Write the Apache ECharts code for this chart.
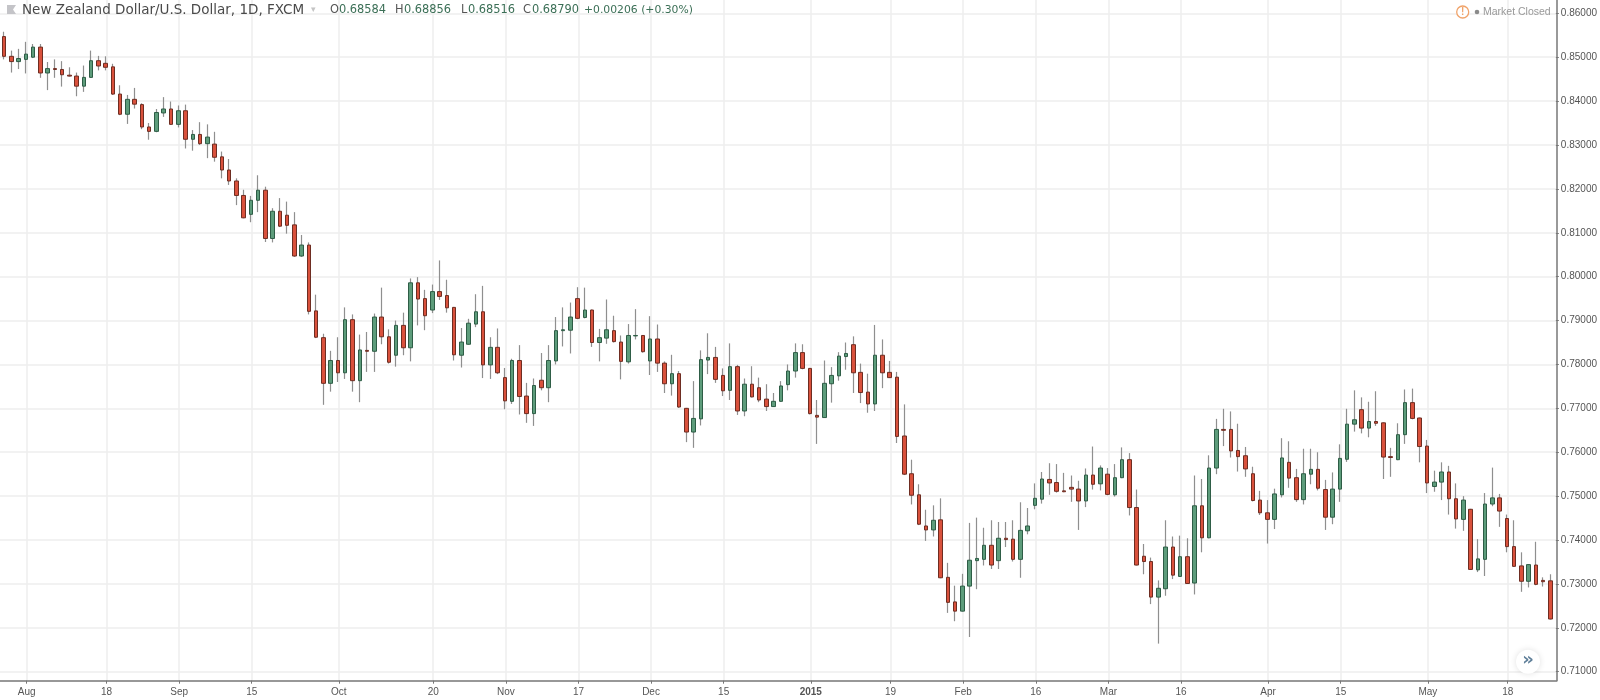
<!DOCTYPE html>
<html><head><meta charset="utf-8"><style>html,body{margin:0;padding:0;background:#fff}#c{width:1600px;height:700px}</style>
<script src="https://cdn.jsdelivr.net/npm/echarts@6/dist/echarts.min.js"></script></head><body><div id="c"></div>
<script>
const opens=[.8547,.8502,.8490,.8495,.8500,.8523,.8464,.8474,.8472,.8459,
.8457,.8434,.8454,.8492,.8486,.8478,.8416,.8370,.8404,.8392,
.8341,.8331,.8373,.8382,.8347,.8378,.8313,.8324,.8303,.8302,
.8273,.8243,.8218,.8185,.8142,.8174,.8197,.8087,.8149,.8140,
.8118,.8047,.8072,.7922,.7861,.7757,.7809,.7781,.7902,.7763,
.7832,.7830,.7908,.7863,.7821,.7889,.7838,.7986,.7950,.7924,
.7966,.7957,.7930,.7821,.7846,.7892,.7920,.7799,.7839,.7770,
.7716,.7809,.7728,.7688,.7764,.7747,.7808,.7877,.7878,.7950,
.7907,.7924,.7850,.7860,.7877,.7851,.7806,.7865,.7866,.7808,
.7858,.7803,.7756,.7779,.7700,.7646,.7676,.7810,.7816,.7775,
.7741,.7795,.7694,.7755,.7747,.7721,.7704,.7716,.7754,.7785,
.7827,.7791,.7684,.7679,.7756,.7774,.7818,.7845,.7782,.7737,
.7710,.7821,.7782,.7771,.7637,.7551,.7503,.7432,.7423,.7446,
.7315,.7259,.7238,.7295,.7353,.7356,.7388,.7353,.7404,.7402,
.7356,.7421,.7479,.7493,.7538,.7531,.7512,.7520,.7516,.7489,
.7548,.7528,.7550,.7503,.7542,.7583,.7474,.7363,.7351,.7270,
.7289,.7384,.7317,.7362,.7302,.7478,.7405,.7564,.7652,.7652,
.7604,.7592,.7551,.7491,.7462,.7447,.7503,.7577,.7542,.7492,
.7550,.7561,.7515,.7452,.7516,.7584,.7664,.7697,.7655,.7670,
.7667,.7590,.7583,.7640,.7713,.7678,.7614,.7522,.7532,.7555,
.7494,.7447,.7470,.7332,.7356,.7482,.7496,.7449,.7385,.7341,
.7306,.7343,.7308,.7307];
const closes=[.8502,.8490,.8497,.8507,.8523,.8464,.8474,.8472,.8460,.8457,
.8434,.8454,.8492,.8480,.8477,.8416,.8370,.8404,.8393,.8341,
.8331,.8374,.8382,.8347,.8378,.8313,.8324,.8303,.8318,.8272,
.8243,.8218,.8185,.8134,.8174,.8197,.8087,.8149,.8115,.8117,
.8047,.8072,.7921,.7862,.7757,.7809,.7781,.7902,.7763,.7833,
.7830,.7908,.7863,.7805,.7889,.7838,.7986,.7949,.7911,.7966,
.7955,.7929,.7822,.7851,.7894,.7920,.7799,.7839,.7781,.7717,
.7809,.7727,.7688,.7752,.7747,.7809,.7877,.7879,.7908,.7905,
.7924,.7850,.7861,.7879,.7852,.7807,.7866,.7866,.7829,.7858,
.7803,.7756,.7779,.7703,.7646,.7677,.7811,.7816,.7766,.7740,
.7795,.7694,.7755,.7726,.7719,.7704,.7716,.7751,.7785,.7827,
.7791,.7688,.7680,.7757,.7775,.7819,.7825,.7781,.7736,.7710,
.7821,.7781,.7770,.7636,.7550,.7502,.7436,.7423,.7445,.7314,
.7258,.7238,.7295,.7354,.7358,.7388,.7343,.7404,.7401,.7356,
.7422,.7432,.7495,.7539,.7530,.7511,.7510,.7516,.7489,.7548,
.7527,.7564,.7504,.7542,.7583,.7474,.7343,.7351,.7270,.7290,
.7384,.7320,.7362,.7301,.7478,.7405,.7564,.7652,.7650,.7603,
.7590,.7562,.7490,.7462,.7447,.7505,.7587,.7541,.7492,.7551,
.7561,.7518,.7452,.7516,.7586,.7664,.7674,.7655,.7670,.7666,
.7589,.7588,.7640,.7713,.7677,.7613,.7530,.7532,.7555,.7494,
.7448,.7491,.7333,.7357,.7482,.7496,.7466,.7385,.7340,.7306,
.7344,.7299,.7305,.7220];
const highs=[.8558,.8515,.8519,.8535,.8530,.8530,.8489,.8495,.8491,.8477,
.8465,.8481,.8515,.8503,.8502,.8485,.8436,.8414,.8430,.8395,
.8350,.8382,.8409,.8399,.8390,.8392,.8334,.8352,.8347,.8330,
.8285,.8268,.8224,.8198,.8184,.8231,.8205,.8156,.8179,.8171,
.8147,.8095,.8078,.7959,.7870,.7831,.7862,.7930,.7914,.7868,
.7874,.7916,.7975,.7880,.7900,.7918,.7996,.7999,.7970,.7982,
.8037,.7993,.7931,.7883,.7904,.7960,.7979,.7862,.7882,.7792,
.7813,.7844,.7758,.7768,.7826,.7844,.7908,.7930,.7941,.7976,
.7975,.7925,.7881,.7948,.7911,.7866,.7892,.7926,.7867,.7910,
.7891,.7807,.7822,.7785,.7701,.7762,.7832,.7871,.7840,.7791,
.7848,.7799,.7768,.7796,.7770,.7755,.7735,.7762,.7800,.7848,
.7846,.7792,.7719,.7809,.7794,.7828,.7850,.7864,.7802,.7779,
.7890,.7857,.7808,.7783,.7709,.7583,.7527,.7469,.7479,.7495,
.7348,.7296,.7323,.7439,.7451,.7428,.7445,.7441,.7441,.7445,
.7486,.7473,.7529,.7555,.7575,.7573,.7553,.7547,.7535,.7563,
.7613,.7570,.7564,.7573,.7611,.7598,.7515,.7391,.7360,.7308,
.7445,.7408,.7410,.7404,.7547,.7539,.7593,.7676,.7699,.7693,
.7665,.7612,.7567,.7512,.7491,.7517,.7632,.7625,.7562,.7608,
.7608,.7600,.7537,.7554,.7618,.7699,.7741,.7725,.7715,.7739,
.7668,.7610,.7666,.7743,.7745,.7679,.7628,.7558,.7577,.7569,
.7529,.7500,.7471,.7402,.7507,.7565,.7505,.7458,.7445,.7372,
.7345,.7396,.7315,.7322];
const lows=[.8495,.8465,.8473,.8463,.8498,.8453,.8425,.8453,.8433,.8456,
.8411,.8421,.8453,.8470,.8470,.8414,.8368,.8348,.8383,.8336,
.8312,.8329,.8364,.8346,.8340,.8292,.8287,.8300,.8270,.8262,
.8224,.8209,.8163,.8133,.8124,.8147,.8079,.8078,.8113,.8098,
.8045,.8045,.7914,.7860,.7708,.7738,.7760,.7767,.7738,.7714,
.7783,.7783,.7846,.7802,.7795,.7821,.7807,.7889,.7878,.7917,
.7947,.7918,.7809,.7793,.7845,.7885,.7769,.7767,.7778,.7698,
.7710,.7686,.7667,.7660,.7741,.7714,.7800,.7841,.7825,.7903,
.7905,.7840,.7807,.7847,.7850,.7766,.7802,.7857,.7827,.7776,
.7783,.7735,.7729,.7701,.7623,.7610,.7661,.7778,.7758,.7728,
.7719,.7685,.7682,.7725,.7714,.7694,.7703,.7715,.7741,.7770,
.7789,.7686,.7619,.7678,.7713,.7763,.7788,.7735,.7712,.7690,
.7694,.7746,.7769,.7621,.7548,.7481,.7434,.7398,.7408,.7313,
.7234,.7215,.7237,.7179,.7288,.7342,.7334,.7334,.7384,.7351,
.7314,.7413,.7470,.7483,.7503,.7508,.7509,.7487,.7423,.7475,
.7515,.7513,.7502,.7499,.7541,.7456,.7342,.7322,.7254,.7164,
.7273,.7311,.7316,.7300,.7276,.7372,.7404,.7550,.7614,.7588,
.7556,.7544,.7488,.7457,.7392,.7425,.7497,.7519,.7487,.7481,
.7527,.7513,.7423,.7436,.7487,.7578,.7647,.7643,.7634,.7660,
.7539,.7544,.7582,.7619,.7675,.7577,.7507,.7510,.7491,.7458,
.7426,.7421,.7332,.7327,.7318,.7477,.7430,.7372,.7339,.7282,
.7292,.7297,.7294,.7219];
const tickIndex=[3,14,24,34,46,59,69,79,89,99,111,122,132,142,152,162,174,184,196,207];
const tickLabels=['Aug','18','Sep','15','Oct','20','Nov','17','Dec','15','2015','19','Feb','16','Mar','16','Apr','15','May','18'];
const categories=opens.map((_,i)=>String(i));
const priceMin=.71, priceMax=.86, priceStep=.01;

const wickData=opens.map((o,i)=>[o,closes[i],lows[i],highs[i]]);
const bodyData=opens.map((o,i)=>[o,closes[i],Math.min(o,closes[i]),Math.max(o,closes[i])]);

const gridC='#eeeeee', axisC='#777', textC='#555', font='"Liberation Sans",Arial,sans-serif';
const plotR=1556.5, axisB=680.7, gTop=13.3, gH=658.4, band=7.26;
const hidden={show:false};
const chart=echarts.init(document.getElementById('c'),null,{renderer:'canvas'});
const hdr=(x,t,c,s)=>({type:'text',z:100,x:x,y:10,silent:true,style:{text:t,fill:c,font:s+'px "DejaVu Sans",sans-serif',verticalAlign:'middle'}});
chart.setOption({
 animation:false,backgroundColor:'#fff',
 grid:[
  {left:0,width:plotR,top:0,height:axisB},
  {left:0,width:plotR,top:gTop,height:gH},
  {left:4.9,width:band*213,top:0,height:axisB},
  {left:.4,width:band*214,top:gTop,height:gH}
 ],
 xAxis:[
  {gridIndex:0,type:'value',min:0,max:1,axisLabel:hidden,axisTick:hidden,splitLine:hidden,
   axisLine:{show:true,onZero:false,lineStyle:{color:axisC,width:1.5}}},
  {gridIndex:1,type:'value',min:0,max:1,show:false},
  {gridIndex:2,type:'category',data:categories,boundaryGap:false,axisLine:hidden,
   axisTick:{show:true,length:3,interval:i=>tickIndex.includes(i),lineStyle:{color:axisC}},
   splitLine:{show:true,interval:i=>tickIndex.includes(i),lineStyle:{color:gridC,width:1.5}},
   axisLabel:{show:true,interval:i=>tickIndex.includes(i),margin:7,color:textC,fontFamily:font,fontSize:10,
    formatter:(v,i)=>tickLabels[tickIndex.indexOf(i)]==='2015'?'{b|2015}':(tickLabels[tickIndex.indexOf(i)]||''),
    rich:{b:{fontWeight:'bold',fontSize:10,color:textC,fontFamily:font}}}},
  {gridIndex:3,type:'category',data:categories,show:false}
 ],
 yAxis:[
  {gridIndex:0,type:'value',position:'right',min:0,max:1,axisLabel:hidden,axisTick:hidden,splitLine:hidden,
   axisLine:{show:true,onZero:false,lineStyle:{color:axisC,width:1.5}}},
  {gridIndex:1,type:'value',position:'right',min:priceMin,max:priceMax,interval:priceStep,
   axisLine:{show:false,onZero:false},axisTick:{show:true,length:3,lineStyle:{color:axisC}},
   splitLine:{show:true,lineStyle:{color:gridC,width:1.5}},
   axisLabel:{color:textC,fontFamily:font,fontSize:10,margin:5,formatter:v=>v.toFixed(5)}},
  {gridIndex:2,type:'value',min:0,max:1,show:false},
  {gridIndex:3,type:'value',min:priceMin,max:priceMax,show:false}
 ],
 series:[
  {name:'wick',type:'candlestick',xAxisIndex:3,yAxisIndex:3,data:wickData,barWidth:1,z:3,
   itemStyle:{color:'#8f8f8f',color0:'#8f8f8f',borderColor:'#8f8f8f',borderColor0:'#8f8f8f',borderWidth:1.2}},
  {name:'body',type:'candlestick',xAxisIndex:3,yAxisIndex:3,data:bodyData,barWidth:4,z:4,
   itemStyle:{color:'#5d9c7b',color0:'#d9513c',borderColor:'#2e5d46',borderColor0:'#6e2d22',borderWidth:1}}
 ],
 graphic:[
  {type:'polygon',z:100,silent:true,shape:{points:[[7,5],[16,5],[13,9.5],[16,14],[7,14]]},style:{fill:'#c4c4c8'}},
  hdr(22,'New Zealand Dollar/U.S. Dollar, 1D, FXCM','#4a4a4a',13.5),
  {type:'text',z:100,x:311,y:10,silent:true,style:{text:'▾',fill:'#c4c4c4',font:'9px "DejaVu Sans"',verticalAlign:'middle'}},
  hdr(330,'O','#555',11.4),hdr(339,'0.68584','#3b6f56',11.4),
  hdr(395,'H','#555',11.4),hdr(404,'0.68856','#3b6f56',11.4),
  hdr(461,'L','#555',11.4),hdr(468,'0.68516','#3b6f56',11.4),
  hdr(523,'C','#555',11.4),hdr(532,'0.68790','#3b6f56',11.4),
  hdr(584,'+0.00206 (+0.30%)','#3b6f56',10.8),
  {type:'circle',z:100,silent:true,shape:{cx:1462.7,cy:12,r:6},style:{fill:'#fff',stroke:'#f0a36a',lineWidth:1.3}},
  {type:'text',z:101,x:1462.7,y:12,silent:true,style:{text:'!',fill:'#f0a36a',font:'bold 10px "Liberation Sans"',align:'center',verticalAlign:'middle'}},
  {type:'circle',z:100,silent:true,shape:{cx:1477,cy:12,r:2.3},style:{fill:'#8a8a8a'}},
  {type:'text',z:100,x:1483,y:12,silent:true,style:{text:'Market Closed',fill:'#999',font:'10.5px "Liberation Sans"',verticalAlign:'middle'}},
  {type:'circle',z:100,silent:true,shape:{cx:1528,cy:661.7,r:12},style:{fill:'#fff',shadowBlur:6,shadowColor:'rgba(0,0,0,.12)'}},
  {type:'text',z:101,x:1528,y:660.5,silent:true,style:{text:'»',fill:'#5f7f99',font:'bold 18px "DejaVu Sans"',align:'center',verticalAlign:'middle'}}
 ]
});
</script></body></html>
